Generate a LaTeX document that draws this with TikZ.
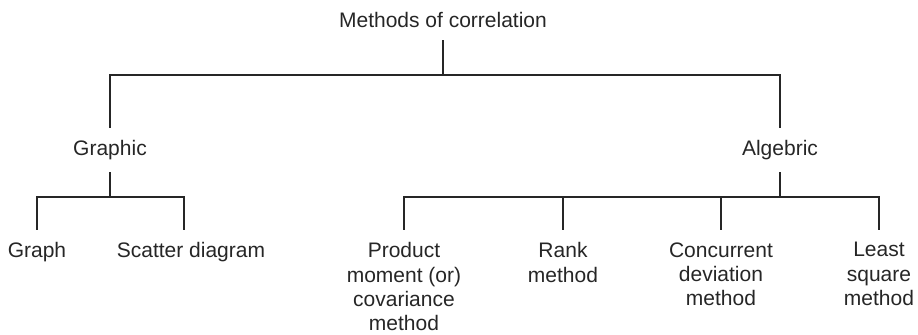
\documentclass[tikz,border=0pt]{standalone}
\usepackage{fontspec}
\setmainfont{Liberation Sans}
\usetikzlibrary{calc}

\begin{document}
\begin{tikzpicture}[x=0.5pt, y=-0.5pt]
% ---------------------------------------------------------
% Levels (y of the horizontal bars, grid is 0.5pt)
% ---------------------------------------------------------
\def\TopBarY{75}      % bar under the root
\def\SubBarY{197}     % bars under Graphic / Algebric

% ---------------------------------------------------------
% Styles
% ---------------------------------------------------------
\tikzset{
  tree label/.style={font=\fontsize{10.5}{12.2}\selectfont, align=center,
    inner xsep=0pt, inner ysep=6pt, anchor=north, text=black!85},
  tree line/.style={draw=black!85, line width=0.8pt}
}

\useasboundingbox (0,0) rectangle (918,335);

% =========================================================
% 1) LABELS
% =========================================================
\node[tree label] (methods) at (443,0) {Methods of correlation};

\node[tree label] (graphic)  at (110,128) {Graphic};
\node[tree label] (algebric) at (780,128) {Algebric};

\node[tree label] (graph)   at (37,230)  {Graph};
\node[tree label] (scatter) at (191,230) {Scatter diagram};

\node[tree label] (product)    at (404,230) {Product\\moment (or)\\covariance\\method};
\node[tree label] (rank)       at (563,230) {Rank\\method};
\node[tree label] (concurrent) at (721,230) {Concurrent\\deviation\\method};
\node[tree label] (least)      at (879,230) {Least\\square\\method};

% junction points on the bars
\coordinate (topbar) at (443,\TopBarY);
\coordinate (gbar)   at (110,\SubBarY);
\coordinate (abar)   at (780,\SubBarY);

% =========================================================
% 2) CONNECTORS
% =========================================================
% root -> Graphic / Algebric
\draw[tree line] (methods.south) -- (topbar);
\draw[tree line] (graphic.north) |- (topbar) -| (algebric.north);

% Graphic -> Graph / Scatter diagram
\draw[tree line] (graphic.south) -- (gbar);
\draw[tree line] (graph.north) |- (gbar) -| ([xshift=-3.5pt]scatter.north);

% Algebric -> the four methods
\draw[tree line] (algebric.south) -- (abar);
\draw[tree line] (product.north) |- (abar) -| (least.north);
\foreach \m in {rank, concurrent} {
  \draw[tree line] (\m.north) -- (\m.north |- abar);
}

\end{tikzpicture}
\end{document}
